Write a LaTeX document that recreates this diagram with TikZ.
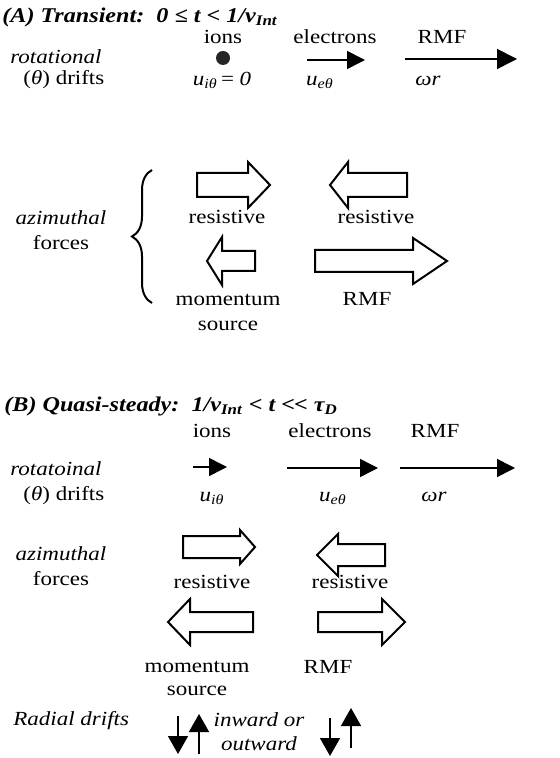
\documentclass[tikz,border=0pt]{standalone}
\usepackage{fontspec}
\setmainfont{Liberation Serif}[FakeStretch=1.15]
\usepackage{tikz}
\usetikzlibrary{arrows.meta,positioning,decorations.pathreplacing}
\tikzset{
  txt/.style={inner sep=0pt, font=\fontsize{10}{12.5}\selectfont},
  itxt/.style={txt, font=\fontsize{10}{12.5}\selectfont\itshape},
  headtxt/.style={inner sep=0pt, anchor=west, font=\fontsize{10.5}{13}\selectfont\bfseries\itshape},
  driftarrow/.style={-{Triangle[length=9pt,width=9pt]}, line width=0.8pt},
  radialarrow/.style={-{Triangle[length=9pt,width=10pt]}, line width=0.8pt},
  forcebox/.style={draw, line width=1pt, line join=miter},
  iondot/.style={circle, fill=black!85, inner sep=0pt, minimum size=7pt}
}
% block arrow: tail x, neck x, tip x, y, body half height, head half height
\newcommand{\forcearrow}[6]{%
  \draw[forcebox] ({#1},{#4-#5}) -- ({#2},{#4-#5}) -- ({#2},{#4-#6}) -- ({#3},{#4})
    -- ({#2},{#4+#6}) -- ({#2},{#4+#5}) -- ({#1},{#4+#5}) -- cycle;}
\newcommand{\uvel}[1]{\textit{u}\textsubscript{\textit{#1θ}}}

\begin{document}
\begin{tikzpicture}[x=0.5pt, y=-0.5pt]
  \useasboundingbox (0,0) rectangle (559,758);

  % (A) transient
  \node[headtxt] (headA) at (2,17) {(A) Transient:\ \ 0 ≤ t < 1/ν\textsubscript{Int}};
  \node[txt] (ionsA) at (223,37) {ions};
  \node[txt] (elecA) at (335,37) {electrons};
  \node[txt] (rmfA) at (442,37) {RMF};
  \node[itxt, anchor=west] (rotA) at (10,57) {rotational};
  \node[txt, anchor=west] (driftA) at (23,80) {(\textit{θ}) drifts};
  \node[iondot] (ionA) at (223,58) {};
  \node[txt] (uiA) at (222,80) {\uvel{i}\,= \textit{0}};
  \coordinate (eA0) at (307,60);
  \coordinate (eA1) at (365,60);
  \draw[driftarrow] (eA0) -- (eA1);
  \node[txt] (ueA) at (320,82) {\uvel{e}};
  \coordinate (wA0) at (405,59);
  \coordinate (wA1) at (517,59);
  \draw[driftarrow, -{Triangle[length=10pt,width=10pt]}] (wA0) -- (wA1);
  \node[txt] (wrA) at (428,81) {\textit{ωr}};

  \node[txt, align=center] (azA) at (61,230) {\textit{azimuthal}\\forces};
  \draw[decorate, decoration={brace, amplitude=10pt}, line width=1pt] (152,303) -- (152,170);
  \forcearrow{197}{248}{270}{185}{12}{23}
  \node[txt] (resA1) at (227,217) {resistive};
  \forcearrow{407}{348}{330}{185}{12}{23}
  \node[txt] (resA2) at (376,217) {resistive};
  \forcearrow{255}{222}{207}{261}{10}{24}
  \node[txt, align=center] (momA) at (228,312) {momentum\\source};
  \forcearrow{315}{413}{447}{261}{11}{23}
  \node[txt] (rmfA2) at (367,299) {RMF};

  % (B) quasi-steady
  \node[headtxt] (headB) at (4,406) {(B) Quasi-steady:\ \ 1/ν\textsubscript{Int} < t <\kern-0.05em< τ\textsubscript{D}};
  \node[txt] (ionsB) at (212,431) {ions};
  \node[txt] (elecB) at (330,431) {electrons};
  \node[txt] (rmfB) at (435,431) {RMF};
  \node[itxt, anchor=west] (rotB) at (10,469) {rotatoinal};
  \node[txt, anchor=west] (driftB) at (23,496) {(\textit{θ}) drifts};
  \coordinate (iB0) at (193,467);
  \coordinate (iB1) at (227,467);
  \draw[driftarrow] (iB0) -- (iB1);
  \coordinate (eB0) at (287,468);
  \coordinate (eB1) at (378,468);
  \draw[driftarrow] (eB0) -- (eB1);
  \coordinate (wB0) at (400,468);
  \coordinate (wB1) at (515,468);
  \draw[driftarrow] (wB0) -- (wB1);
  \node[txt] (uiB) at (212,498) {\uvel{i}};
  \node[txt] (ueB) at (333,498) {\uvel{e}};
  \node[txt] (wrB) at (434,497) {\textit{ωr}};

  \node[txt, align=center] (azB) at (61,566) {\textit{azimuthal}\\forces};
  \forcearrow{183}{240}{255}{547}{11}{17}
  \node[txt] (resB1) at (212,582) {resistive};
  \forcearrow{385}{338}{317}{555}{11}{21}
  \node[txt] (resB2) at (350,582) {resistive};
  \forcearrow{253}{190}{168}{622}{10}{23}
  \node[txt, align=center, font=\fontsize{10}{11.5}\selectfont] (momB) at (197,678) {momentum\\source};
  \forcearrow{318}{382}{405}{622}{10}{23}
  \node[txt] (rmfB2) at (328,667) {RMF};

  \node[itxt, anchor=west] (radB) at (13,721) {Radial drifts};
  \coordinate (dn1a) at (178,716);
  \coordinate (dn1b) at (178,754);
  \coordinate (up1a) at (199,754);
  \coordinate (up1b) at (199,714);
  \draw[radialarrow] (dn1a) -- (dn1b);
  \draw[radialarrow] (up1a) -- (up1b);
  \node[itxt, align=center, font=\fontsize{10}{12}\selectfont\itshape] (inout) at (259,732) {inward or\\outward};
  \coordinate (dn2a) at (330,718);
  \coordinate (dn2b) at (330,756);
  \coordinate (up2a) at (351,748);
  \coordinate (up2b) at (351,708);
  \draw[radialarrow] (dn2a) -- (dn2b);
  \draw[radialarrow] (up2a) -- (up2b);
\end{tikzpicture}
\end{document}
